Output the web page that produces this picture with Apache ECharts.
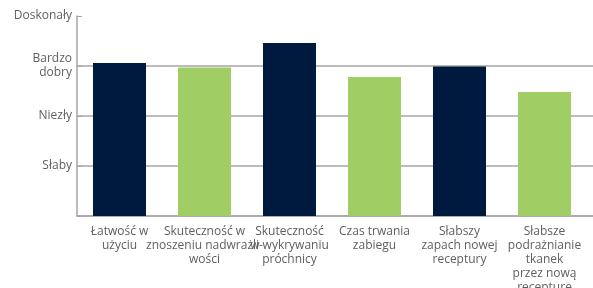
<!DOCTYPE html>
<html>
<head>
<meta charset="utf-8">
<style>
	html, body { margin: 0; padding: 0; background: #fff; }
	#chartMain { width: 593px; height: 288px; }
</style>
<script src="https://cdn.jsdelivr.net/npm/echarts@6/dist/echarts.min.js"></script>
</head>
<body>
<div id="chartMain"></div>
<script>
	// kategorie i oceny
	var categories = [
		'Łatwość w\nużyciu',
		'Skuteczność w\nznoszeniu nadwrażli-\nwości',
		'Skuteczność\nw wykrywaniu\npróchnicy',
		'Czas trwania\nzabiegu',
		'Słabszy\nzapach nowej\nreceptury',
		'Słabsze\npodrażnianie\ntkanek\nprzez nową\nrecepturę'
	]
	var scores = [3.06, 2.97, 3.46, 2.78, 2.99, 2.48]
	var barColors = ['#001a3f', '#a0cd64', '#001a3f', '#a0cd64', '#001a3f', '#a0cd64']
	var ratingLabels = ['', 'Słaby', 'Niezły', 'Bardzo\ndobry', 'Doskonały']

	var axisGray = '#a6a6a6'
	var textGray = '#5f5f5f'

	var chart = echarts.init(document.getElementById('chartMain'))
	var option = {
		animation: false,
		textStyle: { fontFamily: 'Open Sans' },
		// grid 0: ramka z osiami i liniami siatki, grid 1: słupki
		grid: [
			{ left: 77, right: -5, top: 16, bottom: 72, outerBoundsMode: 'none' },
			{ left: 77, right: 6, top: 16, bottom: 72, outerBoundsMode: 'none' }
		],
		xAxis: [
			{
				gridIndex: 0,
				type: 'category',
				data: categories,
				axisLine: { lineStyle: { color: axisGray, width: 1.5 } },
				axisTick: { show: false },
				axisLabel: { show: false }
			},
			{
				gridIndex: 1,
				type: 'category',
				data: categories,
				axisLine: { show: false },
				axisTick: { show: false },
				axisLabel: {
					interval: 0,
					color: textGray,
					fontSize: 12,
					lineHeight: 14,
					margin: 9
				}
			}
		],
		yAxis: [
			{
				gridIndex: 0,
				type: 'value',
				min: 0,
				max: 4,
				interval: 1,
				axisLine: { show: true, lineStyle: { color: axisGray, width: 1.5 } },
				axisTick: { show: true, inside: true, length: 5, lineStyle: { color: axisGray } },
				splitLine: {
					show: true,
					showMaxLine: false,
					lineStyle: { color: axisGray, width: 1.5 }
				},
				axisLabel: {
					color: textGray,
					fontSize: 12,
					lineHeight: 14,
					margin: 5,
					formatter: function (v) {
						return ratingLabels[v] || ''
					}
				}
			},
			{
				gridIndex: 1,
				type: 'value',
				min: 0,
				max: 4,
				interval: 1,
				show: false,
				splitLine: { show: false }
			}
		],
		series: [
			{
				type: 'bar',
				xAxisIndex: 1,
				yAxisIndex: 1,
				barWidth: 53,
				data: scores.map(function (v, i) {
					return { value: v, itemStyle: { color: barColors[i] } }
				})
			}
		]
	}
	chart.setOption(option)
</script>
</body>
</html>
